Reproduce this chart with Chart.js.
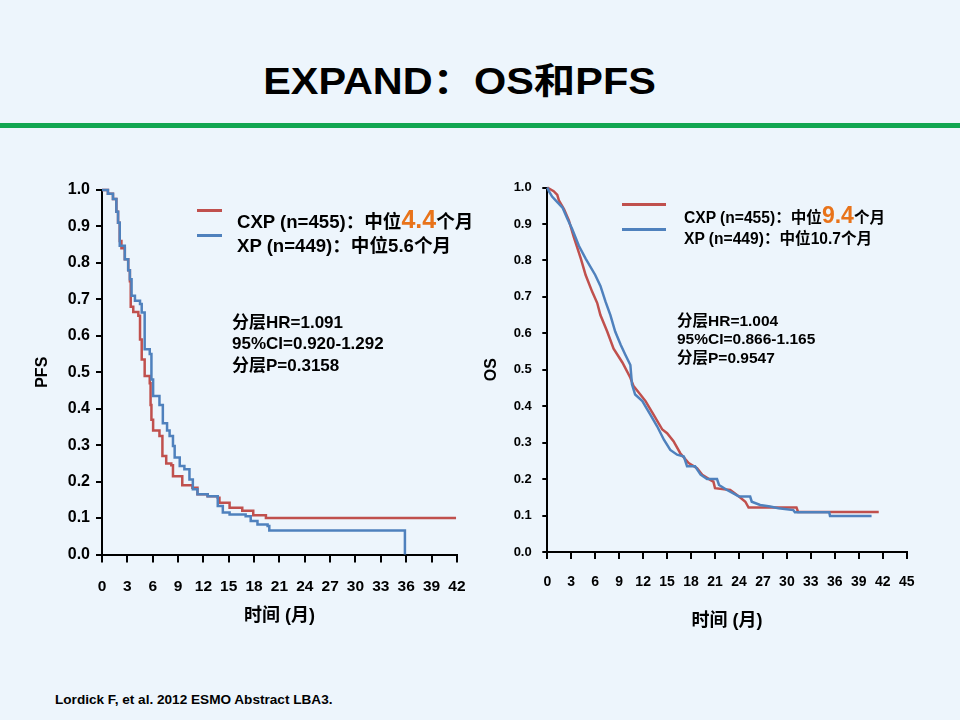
<!DOCTYPE html>
<html lang="zh">
<head>
<meta charset="utf-8">
<title>EXPAND：OS和PFS</title>
<script src="https://cdn.jsdelivr.net/npm/chart.js@4.4.1/dist/chart.umd.min.js"></script>
<style>
  html, body { margin: 0; padding: 0; }
  body {
    width: 960px; height: 720px; position: relative; overflow: hidden;
    background: #EDF5FC; color: #000;
    font-family: "Liberation Sans", "Noto Sans CJK SC", sans-serif; font-weight: bold;
  }
  .abs { position: absolute; white-space: nowrap; }
  #title { left: 0; width: 919px; top: 60px; line-height: 44px; font-size: 36px; text-align: center; transform: scaleX(1.15); transform-origin: 459.5px 50%; }
  #rule { left: 0; top: 123px; width: 960px; height: 5px; background: #12A651; }
  .box { position: absolute; top: 160px; width: 480px; height: 480px; }
  .seg { position: absolute; height: 3px; }
  .hi { color: #E8731A; line-height: 0; }
  .lg1 { font-size: 18.6px; line-height: 22px; }
  .st1 { font-size: 17px; line-height: 20px; }
  .lg2 { font-size: 15.6px; line-height: 20px; }
  .st2 { font-size: 15.5px; line-height: 18px; }
</style>
</head>
<body>
<div id="title" class="abs">EXPAND：OS和PFS</div>
<div id="rule" class="abs"></div>

<div class="box" style="left:0"><canvas id="pfsChart"></canvas></div>
<div class="box" style="left:480px"><canvas id="osChart"></canvas></div>

<!-- PFS legend + stats -->
<div class="seg" style="left:197px;top:208.5px;width:25px;background:#C0504D"></div>
<div class="seg" style="left:197px;top:233.5px;width:25px;background:#4F81BD"></div>
<div class="abs lg1" style="left:237px;top:211px">CXP (n=455)：中位<span class="hi" style="font-size:25px">4.4</span>个月</div>
<div class="abs lg1" style="left:237px;top:235px">XP (n=449)：中位5.6个月</div>
<div class="abs st1" style="left:232px;top:313px">分层HR=1.091</div>
<div class="abs st1" style="left:232px;top:334px">95%CI=0.920-1.292</div>
<div class="abs st1" style="left:232px;top:356px">分层P=0.3158</div>

<!-- OS legend + stats -->
<div class="seg" style="left:622px;top:202.5px;width:44px;background:#C0504D"></div>
<div class="seg" style="left:622px;top:228px;width:44px;background:#4F81BD"></div>
<div class="abs lg2" style="left:684px;top:208px">CXP (n=455)：中位<span class="hi" style="font-size:23px">9.4</span>个月</div>
<div class="abs lg2" style="left:684px;top:229px">XP (n=449)：中位10.7个月</div>
<div class="abs st2" style="left:677px;top:312px">分层HR=1.004</div>
<div class="abs st2" style="left:677px;top:330px">95%CI=0.866-1.165</div>
<div class="abs st2" style="left:677px;top:349px">分层P=0.9547</div>

<div class="abs" style="left:55px;top:692px;font-size:13.6px;line-height:16px">Lordick F, et al. 2012 ESMO Abstract LBA3.</div>

<script>
// PFS (months, survival)
const pfsMonthsCxp = [0, 0.7, 1.3, 1.7, 1.9, 2.1, 2.3, 2.7, 3.1, 3.3, 3.4, 3.7, 4.3, 4.5, 4.7, 5.05, 5.65, 5.75, 5.85, 6.05,
    6.8, 7.15, 7.6, 8.2, 8.4, 9.5, 10.7, 11.3, 12.5, 13.7, 13.9, 15.1, 16.6, 17.9, 19.4, 41.9];
const pfsCxp = [1.0, 0.99, 0.975, 0.94, 0.91, 0.86, 0.84, 0.81, 0.78, 0.75, 0.68, 0.665, 0.655, 0.59, 0.535, 0.49, 0.47, 0.41, 0.37, 0.34,
    0.325, 0.27, 0.25, 0.245, 0.215, 0.19, 0.183, 0.165, 0.16, 0.156, 0.142, 0.128, 0.12, 0.108, 0.1, 0.1];

const pfsMonthsXp = [0, 0.7, 1.3, 1.7, 1.9, 2.1, 2.7, 3.1, 3.3, 3.5, 3.9, 4.5, 4.7, 5.05, 5.65, 5.85, 6.05, 6.8, 7.2, 7.7,
    8.0, 8.4, 8.6, 9.2, 9.75, 10.35, 10.75, 11.3, 12.5, 13.7, 14.3, 15.1, 17.0, 17.6, 18.4, 19.6, 19.8, 35.85];
const pfsXp = [1.0, 0.99, 0.975, 0.94, 0.91, 0.847, 0.81, 0.78, 0.755, 0.71, 0.696, 0.687, 0.664, 0.563, 0.55, 0.48, 0.435, 0.41, 0.36, 0.34,
    0.325, 0.298, 0.266, 0.243, 0.234, 0.206, 0.179, 0.165, 0.16, 0.133, 0.115, 0.11, 0.105, 0.092, 0.082, 0.078, 0.066, 0];

// OS
const osMonthsCxp = [0, 0.8, 1.25, 1.45, 2.1, 2.7, 3.3, 4.2, 4.8, 5.6, 6.25, 6.65, 7.5, 8.3, 9.4, 10.4, 10.8, 11.65, 12.3, 13.3,
    14.4, 15.0, 15.8, 16.65, 17.7, 18.75, 19.4, 20.4, 20.8, 21.0, 22.9, 24.0, 24.8, 25.2, 31.2, 31.4, 41.5];
const osCxp = [1.0, 0.99, 0.98, 0.965, 0.94, 0.91, 0.865, 0.805, 0.76, 0.715, 0.683, 0.65, 0.605, 0.558, 0.52, 0.478, 0.455, 0.432, 0.414, 0.377,
    0.336, 0.326, 0.304, 0.271, 0.244, 0.23, 0.212, 0.198, 0.193, 0.175, 0.17, 0.152, 0.138, 0.122, 0.122, 0.11, 0.11];

const osMonthsXp = [0, 0.2, 0.6, 1.25, 1.9, 2.5, 3.1, 3.95, 4.8, 6.0, 6.65, 7.3, 7.9, 8.5, 9.2, 9.8, 10.4, 10.6, 11.0, 11.9,
    12.9, 13.75, 14.6, 15.4, 16.25, 17.1, 17.5, 18.5, 19.2, 20.0, 21.25, 21.5, 22.5, 23.3, 24.0, 25.4, 25.6, 26.65, 27.9, 28.95,
    30.8, 31.0, 35.3, 35.4, 40.6];
const osXp = [1.0, 0.99, 0.975, 0.96, 0.945, 0.915, 0.887, 0.84, 0.805, 0.76, 0.73, 0.686, 0.65, 0.605, 0.568, 0.54, 0.513, 0.46, 0.432, 0.414,
    0.377, 0.345, 0.308, 0.28, 0.267, 0.262, 0.235, 0.235, 0.212, 0.2, 0.2, 0.184, 0.17, 0.161, 0.152, 0.152, 0.138, 0.129, 0.125, 0.12,
    0.115, 0.109, 0.109, 0.099, 0.099];

const seriesNames = ['XP', 'CXP'];
const xTitle = '时间 (月)';

document.addEventListener('DOMContentLoaded', () => {

    const palette = {
        red: '#C0504D',
        blue: '#4F81BD',
        black: '#000000'
    };
    const family = '"Liberation Sans", "Noto Sans CJK SC", sans-serif';

    const toPoints = (months, values) => months.map((m, i) => ({ x: m, y: values[i] }));

    const line = (label, color, data, stepped) => ({
        label,
        data,
        borderColor: color,
        borderWidth: 2.5,
        pointRadius: 0,
        stepped,
        tension: 0,
        clip: false
    });

    // s = sizes for one panel
    const buildChart = (id, s, datasets) => {
        const ctx = document.getElementById(id)?.getContext('2d');
        if (!ctx) return;
        new Chart(ctx, {
            type: 'line',
            data: { datasets },
            options: {
                responsive: true,
                maintainAspectRatio: false,
                animation: false,
                layout: { padding: { left: 0, top: s.top, right: s.right, bottom: 0 } },
                plugins: { legend: { display: false }, tooltip: { enabled: false } },
                scales: {
                    x: {
                        type: 'linear', min: 0, max: s.xMax,
                        afterFit: scale => { scale.height = s.xHeight; },
                        grid: { drawOnChartArea: false, tickLength: s.xTick, color: palette.black, lineWidth: 2 },
                        border: { color: palette.black, width: 2 },
                        ticks: {
                            stepSize: 3, autoSkip: false, maxRotation: 0, padding: s.xPad,
                            color: palette.black, font: { family, size: s.xFont, weight: 'bold' }
                        },
                        title: {
                            display: true, text: xTitle, color: palette.black,
                            font: { family, size: 18, weight: 'bold' },
                            padding: { top: 0, bottom: s.xTitlePad }
                        }
                    },
                    y: {
                        min: 0, max: 1,
                        afterFit: scale => { scale.width = s.yWidth; },
                        grid: { drawOnChartArea: false, tickLength: s.yTick, color: palette.black, lineWidth: 2 },
                        border: { color: palette.black, width: 2 },
                        ticks: {
                            stepSize: 0.1, padding: s.yPad, color: palette.black,
                            font: { family, size: s.yFont, weight: 'bold' },
                            callback: v => v.toFixed(1)
                        },
                        title: {
                            display: true, text: s.yTitle, color: palette.black,
                            font: { family, size: 16, weight: 'bold' },
                            padding: { top: s.yTitlePad, bottom: 0 }
                        }
                    }
                }
            }
        });
    };

    buildChart('pfsChart', {
        top: 30, right: 20.7, xMax: 42, xHeight: 85.5, xTick: 8, xPad: 14.5, xFont: 15.5, xTitlePad: 13,
        yWidth: 102, yTick: 6, yPad: 6, yFont: 16, yTitle: 'PFS', yTitlePad: 33
    }, [
        line(seriesNames[0], palette.blue, toPoints(pfsMonthsXp, pfsXp), true),
        line(seriesNames[1], palette.red, toPoints(pfsMonthsCxp, pfsCxp), true)
    ]);

    buildChart('osChart', {
        top: 27.5, right: 53.3, xMax: 45, xHeight: 88, xTick: 7, xPad: 14.3, xFont: 14, xTitlePad: 8,
        yWidth: 67.3, yTick: 5, yPad: 10.6, yFont: 13, yTitle: 'OS', yTitlePad: 2
    }, [
        line(seriesNames[0], palette.blue, toPoints(osMonthsXp, osXp), false),
        line(seriesNames[1], palette.red, toPoints(osMonthsCxp, osCxp), false)
    ]);
});
</script>
</body>
</html>
